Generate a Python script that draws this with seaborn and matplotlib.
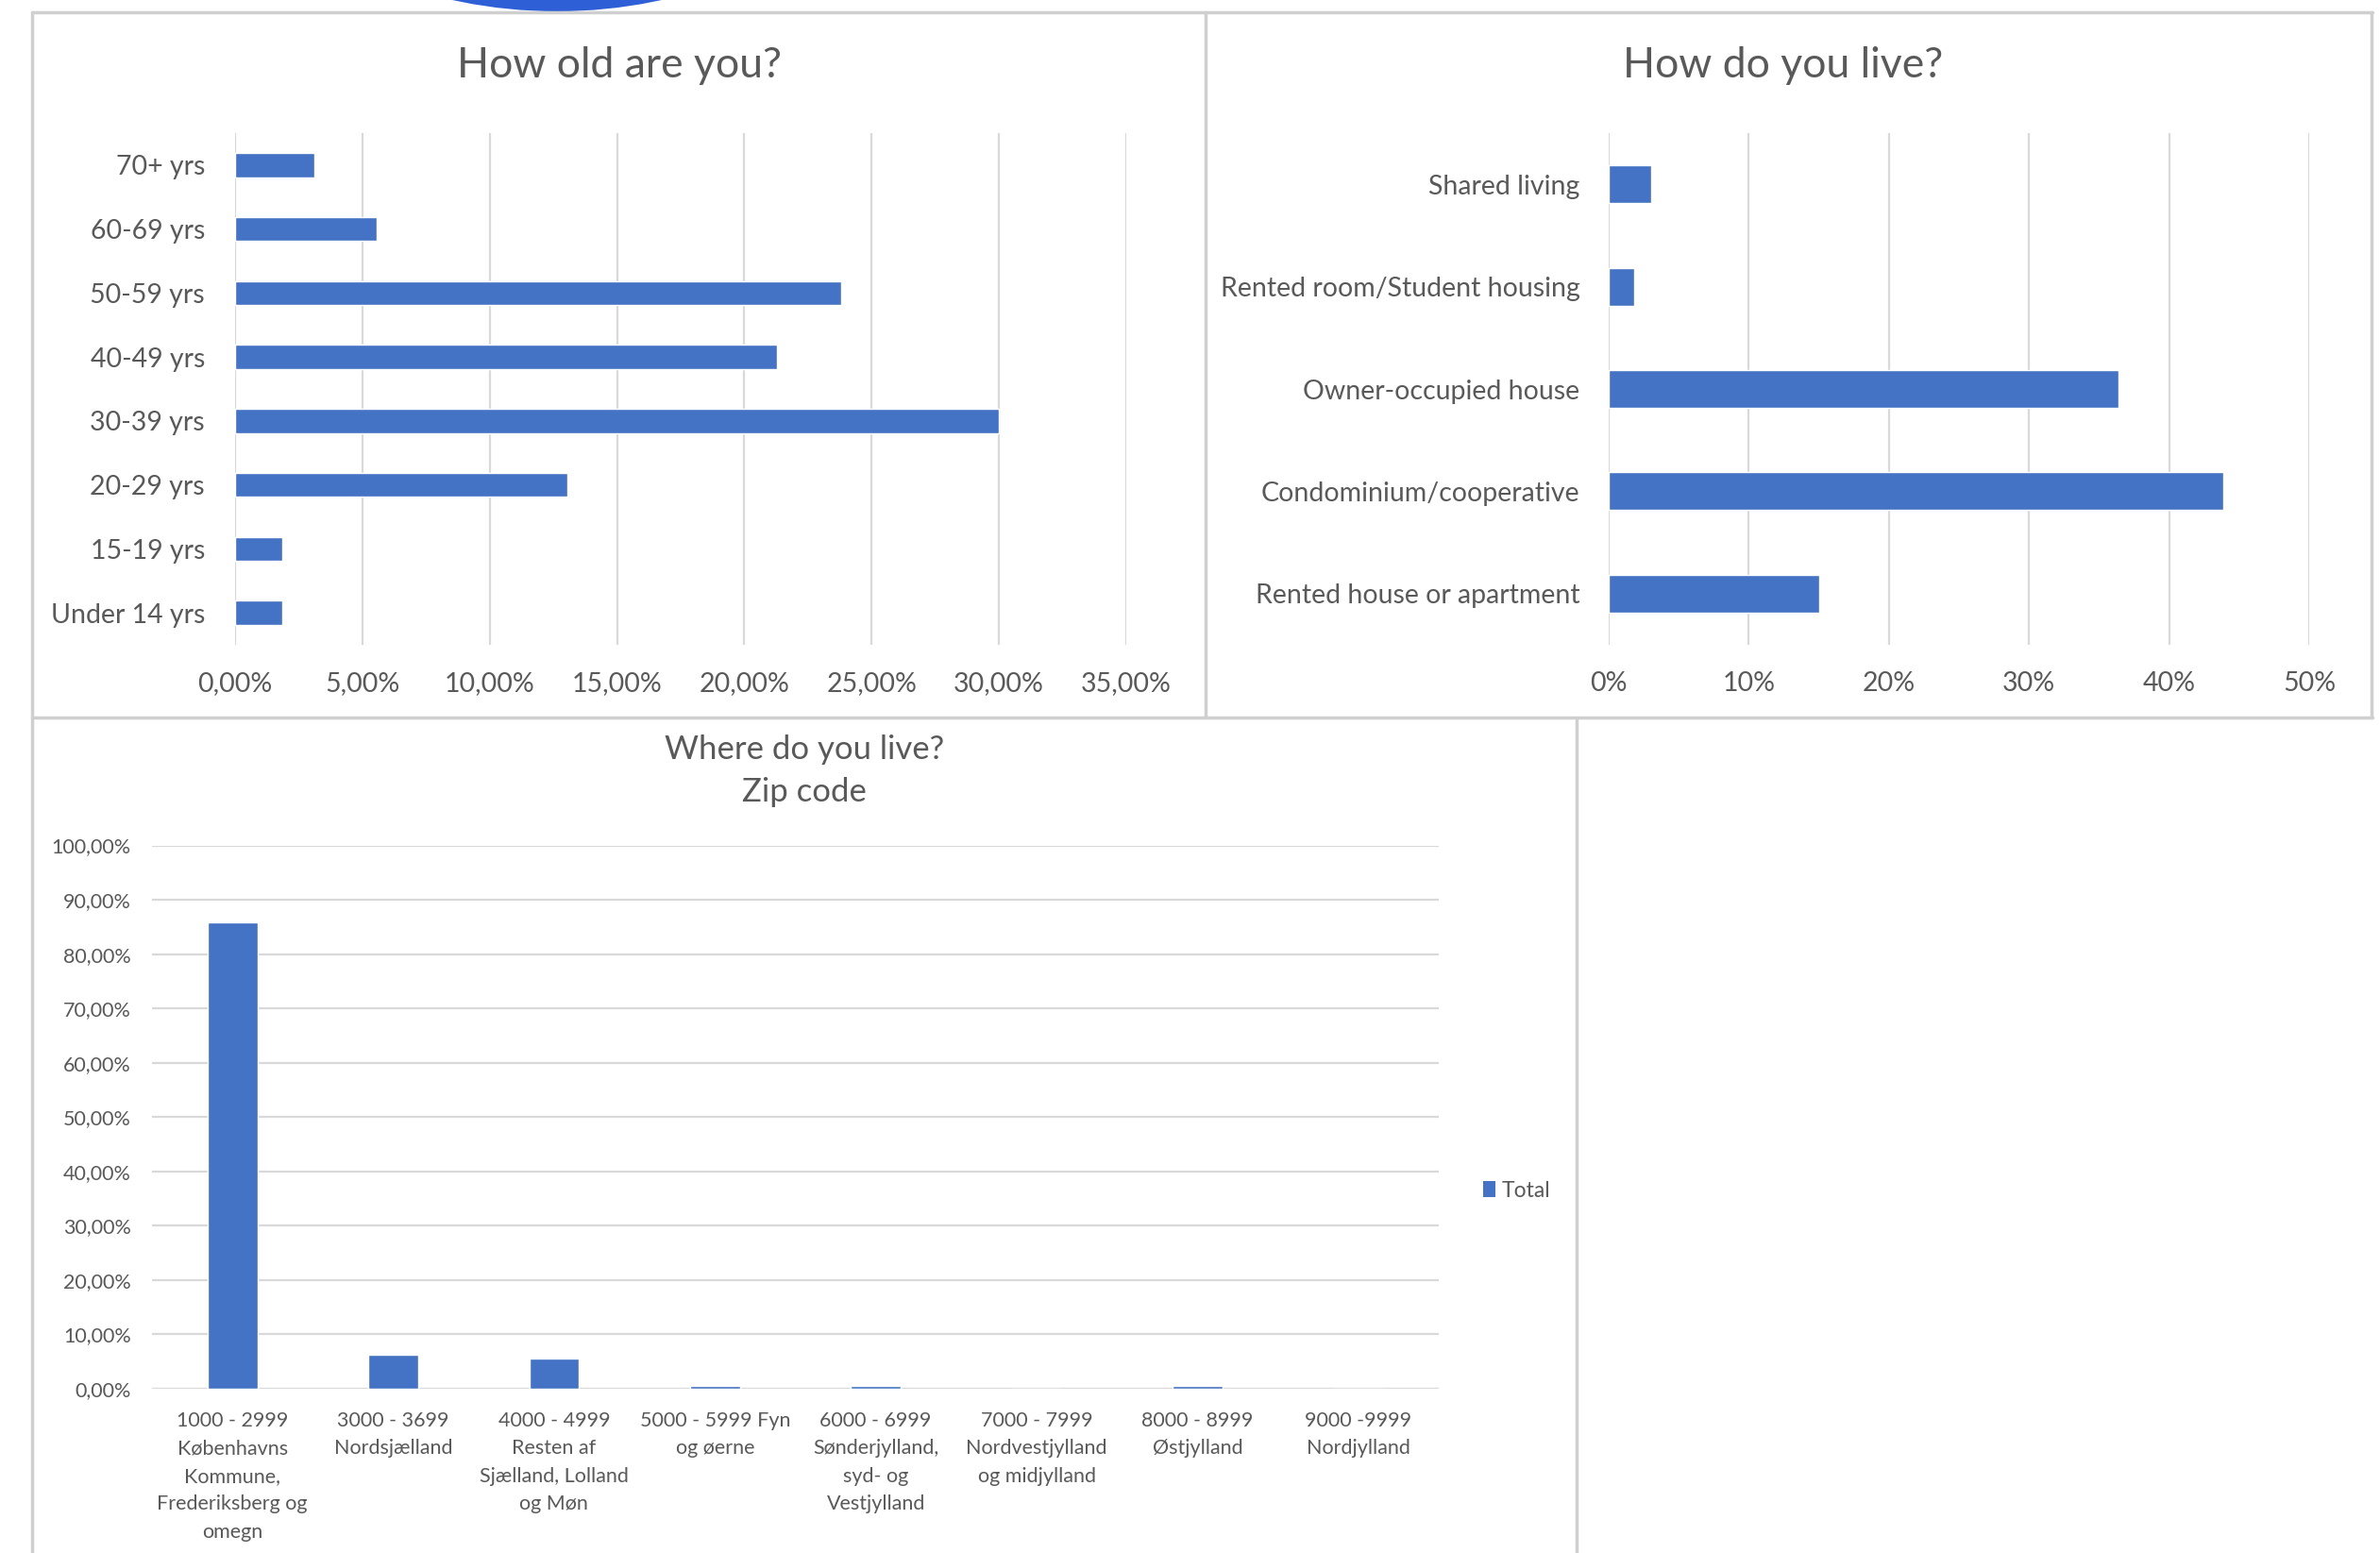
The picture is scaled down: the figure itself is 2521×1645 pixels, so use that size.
import matplotlib
matplotlib.use("Agg")
import matplotlib.pyplot as plt
import seaborn as sns
import pandas as pd
from matplotlib.ticker import FuncFormatter, FixedLocator
from matplotlib.patches import Patch, Circle, Rectangle
from matplotlib.lines import Line2D

# ---------------- data ----------------
age_labels = ["70+ yrs", "60-69 yrs", "50-59 yrs", "40-49 yrs", "30-39 yrs",
              "20-29 yrs", "15-19 yrs", "Under 14 yrs"]
age_values = [3.1, 5.55, 23.8, 21.3, 30.0, 13.05, 1.85, 1.85]

live_labels = ["Shared living", "Rented room/Student housing", "Owner-occupied house",
               "Condominium/cooperative", "Rented house or apartment"]
live_values = [3.0, 1.85, 36.4, 43.9, 15.0]

zip_labels = ["1000 - 2999\nKøbenhavns\nKommune,\nFrederiksberg og\nomegn",
              "3000 - 3699\nNordsjælland",
              "4000 - 4999\nResten af\nSjælland, Lolland\nog Møn",
              "5000 - 5999 Fyn\nog øerne",
              "6000 - 6999\nSønderjylland,\nsyd- og\nVestjylland",
              "7000 - 7999\nNordvestjylland\nog midjylland",
              "8000 - 8999\nØstjylland",
              "9000 -9999\nNordjylland"]
zip_values = [85.9, 6.2, 5.6, 0.5, 0.5, 0.0, 0.5, 0.0]

age_ticks = [0, 5, 10, 15, 20, 25, 30, 35]
live_ticks = [0, 10, 20, 30, 40, 50]
zip_ticks = [0, 10, 20, 30, 40, 50, 60, 70, 80, 90, 100]

# ---------------- style ----------------
sns.set_theme(style="white")
plt.rcParams['font.family'] = ['Lato', 'DejaVu Sans']
BAR = "#4472C4"
TXT = "#595959"
GRID = "#D9D9D9"
BORDER = "#CFCFCF"

W, H = 2521, 1645
fig = plt.figure(figsize=(W / 100, H / 100), dpi=100)
fig.patch.set_facecolor("white")

def fx(px):
    return px / W

def fy(py):
    return 1 - py / H

def axes_px(x0, y0, x1, y1):
    return fig.add_axes([fx(x0), fy(y1), fx(x1 - x0), (y1 - y0) / H])

comma_pct2 = FuncFormatter(lambda v, p: f"{v:.2f}".replace(".", ",") + "%")
int_pct = FuncFormatter(lambda v, p: f"{v:.0f}%")

# ---------------- decoration: blue circle piece + panel borders ----------------
bg = fig.add_axes([0, 0, 1, 1], zorder=-5)
bg.set_xlim(0, W)
bg.set_ylim(H, 0)
bg.axis("off")
bg.add_patch(Circle((590, 12 - 520), 520, color="#2E5FD6", lw=0))
bg.add_patch(Rectangle((0, 13), W, 3, color="white", lw=0))
for (xa, ya, xb, yb) in [(34, 13, 2513, 13), (34, 13, 34, H), (1277, 13, 1277, 760),
                         (2512, 13, 2512, 760), (34, 760, 2513, 760), (1670, 760, 1670, H)]:
    bg.add_line(Line2D([xa, xb], [ya, yb], color=BORDER, lw=2.5))

# ---------------- chart 1: age ----------------
df_age = pd.DataFrame({"age": age_labels, "pct": age_values})
ax1 = axes_px(249, 141, 1193, 683)
sns.barplot(data=df_age, y="age", x="pct", order=age_labels, color=BAR,
            width=0.38, orient="h", ax=ax1, saturation=1)
ax1.set_xlim(0, 35)
ax1.set_ylim(7.5, -0.5)
ax1.xaxis.set_major_locator(FixedLocator(age_ticks))
ax1.xaxis.set_major_formatter(comma_pct2)
ax1.grid(axis="x", color=GRID, lw=1.6)
ax1.set_axisbelow(True)
for s in ax1.spines.values():
    s.set_visible(False)
ax1.set_xlabel("")
ax1.set_ylabel("")
ax1.tick_params(axis="x", length=0, pad=20, labelsize=20.5, labelcolor=TXT)
ax1.tick_params(axis="y", length=0, pad=23, labelsize=20.5, labelcolor=TXT)
fig.text(fx(656), fy(70), "How old are you?", ha="center", va="center",
         fontsize=32, color=TXT)

# ---------------- chart 2: how do you live ----------------
df_live = pd.DataFrame({"kind": live_labels, "pct": live_values})
ax2 = axes_px(1704, 141, 2446, 683)
sns.barplot(data=df_live, y="kind", x="pct", order=live_labels, color=BAR,
            width=0.37, orient="h", ax=ax2, saturation=1)
ax2.set_xlim(0, 50)
ax2.set_ylim(4.5, -0.5)
ax2.xaxis.set_major_locator(FixedLocator(live_ticks))
ax2.xaxis.set_major_formatter(int_pct)
ax2.grid(axis="x", color=GRID, lw=1.6)
ax2.set_axisbelow(True)
for s in ax2.spines.values():
    s.set_visible(False)
ax2.set_xlabel("")
ax2.set_ylabel("")
ax2.tick_params(axis="x", length=0, pad=20, labelsize=20.5, labelcolor=TXT)
ax2.tick_params(axis="y", length=0, pad=22, labelsize=20.5, labelcolor=TXT)
fig.text(fx(1889), fy(70), "How do you live?", ha="center", va="center",
         fontsize=32, color=TXT)

# ---------------- chart 3: zip code ----------------
df_zip = pd.DataFrame({"zip": zip_labels, "pct": zip_values})
ax3 = axes_px(161, 895.5, 1524, 1471)
sns.barplot(data=df_zip, x="zip", y="pct", order=zip_labels, color=BAR,
            width=0.31, ax=ax3, saturation=1)
ax3.set_ylim(0, 100)
ax3.set_xlim(-0.5, 7.5)
ax3.yaxis.set_major_locator(FixedLocator(zip_ticks))
ax3.yaxis.set_major_formatter(comma_pct2)
ax3.grid(axis="y", color=GRID, lw=1.6)
ax3.set_axisbelow(True)
for s in ax3.spines.values():
    s.set_visible(False)
ax3.axhline(0, color="#CFCFCF", lw=1.8, zorder=0.5)
ax3.set_xlabel("")
ax3.set_ylabel("")
ax3.tick_params(axis="x", length=0, pad=17, labelsize=15.5, labelcolor=TXT)
ax3.tick_params(axis="y", length=0, pad=16, labelsize=15.5, labelcolor=TXT)
for lab in ax3.get_xticklabels():
    lab.set_linespacing(1.6)
    lab.set_ha("center")
fig.text(fx(852), fy(794), "Where do you live?", ha="center", va="center",
         fontsize=25, color=TXT)
fig.text(fx(852), fy(839), "Zip code", ha="center", va="center",
         fontsize=25, color=TXT)
fig.legend(handles=[Patch(facecolor=BAR, edgecolor="none", label="Total")],
           loc="center left", bbox_to_anchor=(fx(1571), fy(1261)),
           frameon=False, fontsize=16.5, labelcolor=TXT,
           handlelength=0.55, handleheight=0.75, handletextpad=0.3,
           borderpad=0, borderaxespad=0)

fig.savefig("out.png", dpi=100, facecolor="white")
